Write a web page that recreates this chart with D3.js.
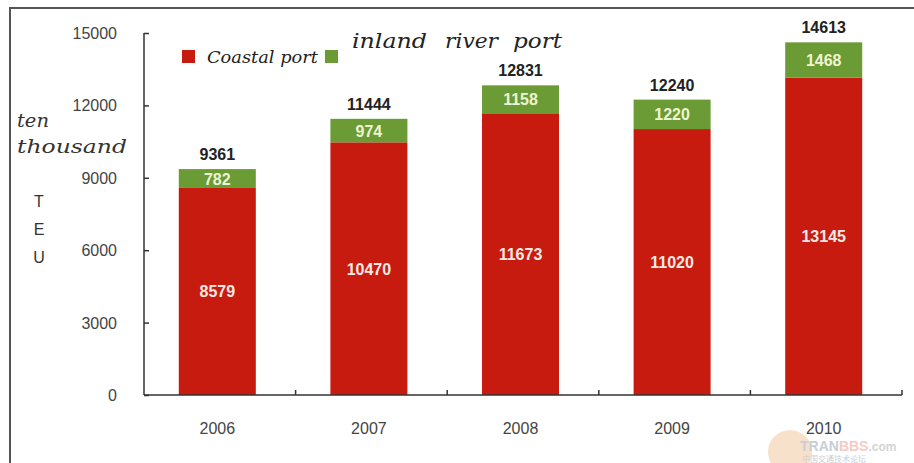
<!DOCTYPE html>
<html><head><meta charset="utf-8">
<script src="https://cdn.jsdelivr.net/npm/d3@7"></script>
<style>html,body{margin:0;padding:0;background:#fff;}svg{display:block;}</style>
</head><body>
<svg id="c" width="914" height="463"></svg>
<script>
const years = ["2006","2007","2008","2009","2010"];
const coastal = [8579, 10470, 11673, 11020, 13145];
const inland = [782, 974, 1158, 1220, 1468];
const totals = [9361, 11444, 12831, 12240, 14613];
const yTicks = [0, 3000, 6000, 9000, 12000, 15000];
const seriesNames = ["Coastal port", "inland river port"];
const colors = ["#c81b10", "#6b9b35"];

const svg = d3.select("#c");
// outer frame
svg.append("rect").attr("x",10).attr("y",8).attr("width",930).attr("height",480)
  .attr("fill","none").attr("stroke","#555").attr("stroke-width",2);

const x = d3.scaleBand().domain(years).range([144, 902]).paddingInner(0.492).paddingOuter(0.246);
const y = d3.scaleLinear().domain([0, 15000]).range([395, 33]);

const rows = years.map((yr,i)=>({year:yr, coastal:coastal[i], inland:inland[i], total:totals[i]}));
const stack = d3.stack().keys(["coastal","inland"])(rows);

const shift = -2.5;
const g = svg.append("g");
stack.forEach((layer, li) => {
  g.selectAll(null).data(layer).enter().append("rect")
    .attr("x", d => x(d.data.year) + shift)
    .attr("width", x.bandwidth())
    .attr("y", d => y(d[1]))
    .attr("height", d => y(d[0]) - y(d[1]))
    .attr("fill", colors[li]);
  g.selectAll(null).data(layer).enter().append("text")
    .attr("x", d => x(d.data.year) + shift + x.bandwidth()/2)
    .attr("y", d => (y(d[0]) + y(d[1]))/2 + 6)
    .attr("text-anchor","middle")
    .attr("font-family","Liberation Sans, Arial, sans-serif")
    .attr("font-weight","bold").attr("font-size",16)
    .attr("fill", li===0 ? "#f7e9e4" : "#eef4d2")
    .text(d => d.data[li===0 ? "coastal" : "inland"]);
});
// totals
g.selectAll(null).data(rows).enter().append("text")
  .attr("x", d => x(d.year) + shift + x.bandwidth()/2)
  .attr("y", d => y(d.total) - 9)
  .attr("text-anchor","middle")
  .attr("font-family","Liberation Sans, Arial, sans-serif")
  .attr("font-weight","bold").attr("font-size",16)
  .attr("fill","#222")
  .text(d => d.total);

// y axis
const yAxis = svg.append("g").attr("transform","translate(144,0)")
  .call(d3.axisRight(y).tickValues(yTicks).tickSize(5).tickFormat(""));
yAxis.select(".domain").attr("stroke","#333").attr("stroke-width",1.5).attr("d","M0,33V395");
yAxis.selectAll(".tick line").attr("stroke","#333").attr("stroke-width",1.5);
svg.append("g").selectAll(null).data(yTicks).enter().append("text")
  .attr("x",117).attr("y", d => y(d) + 6)
  .attr("text-anchor","end")
  .attr("font-family","Liberation Sans, Arial, sans-serif").attr("font-size",16)
  .attr("fill","#444").text(d => d);

// x axis
const xBound = d3.scaleLinear().domain([0,5]).range([144,902]);
svg.append("line").attr("x1",144).attr("x2",902).attr("y1",395).attr("y2",395)
  .attr("stroke","#333").attr("stroke-width",1.5);
svg.append("g").selectAll(null).data(d3.range(1,6)).enter().append("line")
  .attr("x1", d=>xBound(d)).attr("x2", d=>xBound(d)).attr("y1",395).attr("y2",390)
  .attr("stroke","#333").attr("stroke-width",1.5);
svg.append("g").selectAll(null).data(years).enter().append("text")
  .attr("x", d => x(d) + shift + x.bandwidth()/2).attr("y",434)
  .attr("text-anchor","middle")
  .attr("font-family","Liberation Sans, Arial, sans-serif").attr("font-size",16)
  .attr("fill","#444").text(d => d);

// y axis title
const serifF = "DejaVu Serif, Liberation Serif, serif";
svg.append("text").attr("x",17).attr("y",127).attr("font-family",serifF).attr("font-style","italic")
  .attr("font-size",18).attr("fill","#333").attr("textLength",32).attr("lengthAdjust","spacingAndGlyphs").text("ten");
svg.append("text").attr("x",17).attr("y",153).attr("font-family",serifF).attr("font-style","italic")
  .attr("font-size",18).attr("fill","#333").attr("textLength",110).attr("lengthAdjust","spacingAndGlyphs").text("thousand");
["T","E","U"].forEach((ch,i)=>{
  svg.append("text").attr("x",39).attr("y",[207,235,263][i]).attr("text-anchor","middle")
    .attr("font-family","Liberation Sans, Arial, sans-serif").attr("font-size",16)
    .attr("fill","#333").text(ch);
});

// legend
svg.append("rect").attr("x",182).attr("y",50).attr("width",13).attr("height",13).attr("fill",colors[0]);
svg.append("text").attr("x",207).attr("y",63).attr("font-family",serifF).attr("font-style","italic")
  .attr("font-size",17).attr("fill","#222").attr("textLength",111).attr("lengthAdjust","spacingAndGlyphs")
  .text(seriesNames[0]);
svg.append("rect").attr("x",325).attr("y",50).attr("width",13).attr("height",13).attr("fill",colors[1]);
const inlandWords = seriesNames[1].split(" ");
const wordX = [352, 445, 513], wordW = [75, 53, 49];
const lt = svg.append("text").attr("y",48).attr("font-family",serifF).attr("font-style","italic")
  .attr("font-size",21).attr("fill","#222");
inlandWords.forEach((w,i)=>{
  lt.append("tspan").attr("x",wordX[i]).attr("textLength",wordW[i]).attr("lengthAdjust","spacingAndGlyphs").text(w);
});

// faint watermark
const wm = svg.append("g").attr("opacity",0.55);
wm.append("circle").attr("cx",790).attr("cy",452).attr("r",22).attr("fill","#f2c9a0");
wm.append("text").attr("x",800).attr("y",451).attr("font-family","Liberation Sans, Arial, sans-serif")
  .attr("font-weight","bold").attr("font-size",14).attr("fill","#9aa7b3").text("TRAN")
  .append("tspan").attr("fill","#f0a090").text("BBS")
  .append("tspan").attr("fill","#b0b0b0").attr("font-size",12).text(".com");
wm.append("text").attr("x",802).attr("y",462).attr("font-family","Noto Sans CJK SC, sans-serif")
  .attr("font-size",8).attr("fill","#9aa7b3").text("中国交通技术论坛");
</script>
</body></html>
